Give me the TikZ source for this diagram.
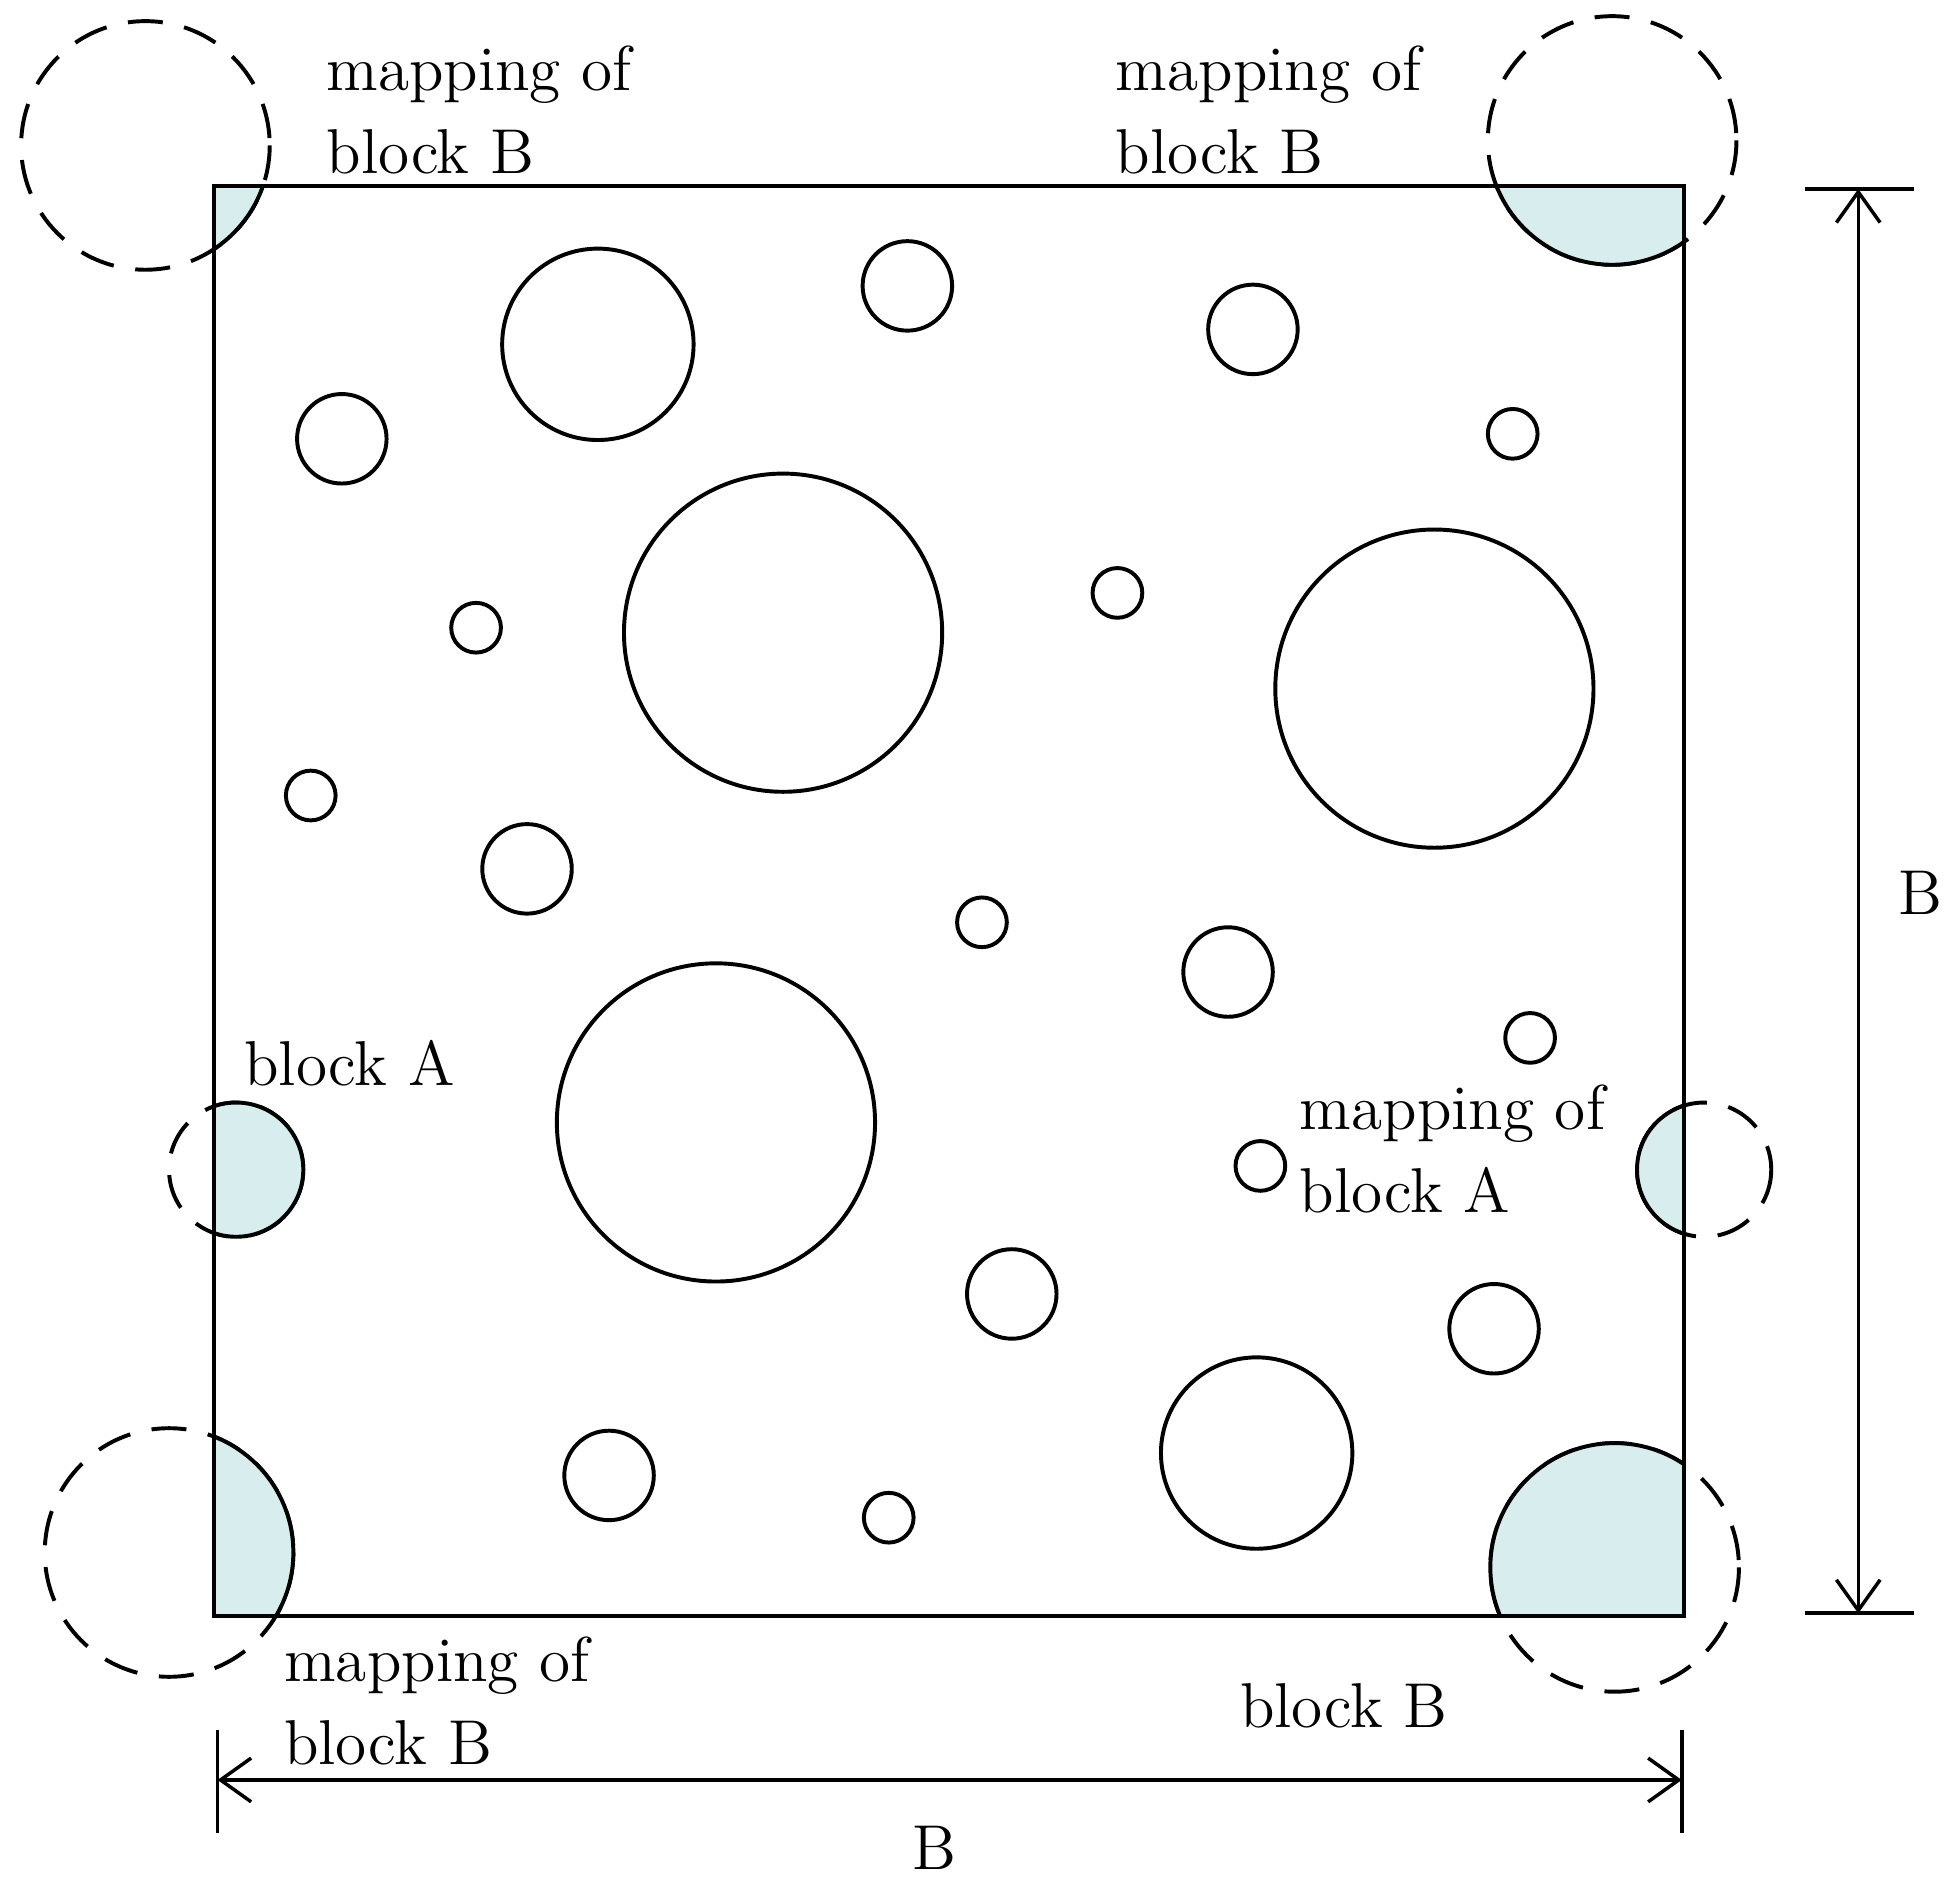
\documentclass[tikz,border=0pt]{standalone}
\usetikzlibrary{arrows.meta}
\begin{document}
\begin{tikzpicture}[x=0.01cm,y=-0.01cm,
  ln/.style={line width=0.9pt},
  hole/.style={ln,draw=black,fill=white},
  dsh/.style={ln,dashed,dash pattern=on 8pt off 5pt},
  lbl/.style={align=left,inner sep=0pt,font=\fontsize{14.5}{19}\selectfont},
  dim/.style={line width=0.8pt,{Straight Barb[length=7pt,width=10pt]}-{Straight Barb[length=7pt,width=10pt]}}]
\useasboundingbox (0,0) rectangle (1568,1517);
\definecolor{blk}{RGB}{216,238,238}
\coordinate (sqa) at (172,150); \coordinate (sqb) at (1355,1300);
% holes
\foreach \x/\y/\r in {481/277/77,730/230/36,1008/265/36,275/353/36,1217/349/20,630/509/128,383/505/20,899/477/20,1154/554/128,250/640/20,424/699/36,790/742/20,988/782/36,1231/835/20,576/903/128,1014/938/20,814/1041/36,1202/1069/36,1011/1169/77,490/1187/36,715/1221/20}
  \draw[ln] (\x,\y) circle (\r);
% boundary blocks
\foreach \x/\y/\r in {117/117/100,1297/113/100,136/1249/100,1299/1261/100,190/941/54,1371/941/54}{
  \draw[dsh] (\x,\y) circle (\r);
  \begin{scope}
    \clip (sqa) rectangle (sqb);
    \draw[ln,fill=blk] (\x,\y) circle (\r);
  \end{scope}}
\draw[ln] (sqa) rectangle (sqb);
% labels
\node[lbl,anchor=north west] (l1) at (262,36) {mapping of\\block B};
\node[lbl,anchor=north west] (l2) at (897,36) {mapping of\\block B};
\node[lbl,anchor=north west] (l3) at (228,1316) {mapping of\\block B};
\node[lbl,anchor=west] (l4) at (997,1372) {block B};
\node[lbl,anchor=west] (l5) at (196,855) {block A};
\node[lbl,anchor=north west] (l6) at (1045,872) {mapping of\\block A};
% dimensions
\coordinate (t1a) at (1452,152); \coordinate (t1b) at (1540,152);
\coordinate (t2a) at (1452,1298); \coordinate (t2b) at (1540,1298);
\draw[ln] (t1a) -- (t1b); \draw[ln] (t2a) -- (t2b);
\coordinate (r1) at (1495,152); \coordinate (r2) at (1495,1298);
\draw[dim] (r1) -- (r2);
\node[lbl] (bv) at (1545,718) {B};
\coordinate (u1a) at (175,1392); \coordinate (u1b) at (175,1475);
\coordinate (u2a) at (1353,1392); \coordinate (u2b) at (1353,1475);
\draw[ln] (u1a) -- (u1b); \draw[ln] (u2a) -- (u2b);
\coordinate (h1) at (175,1432); \coordinate (h2) at (1353,1432);
\draw[dim] (h1) -- (h2);
\node[lbl] (bh) at (752,1487) {B};
\end{tikzpicture}
\end{document}
